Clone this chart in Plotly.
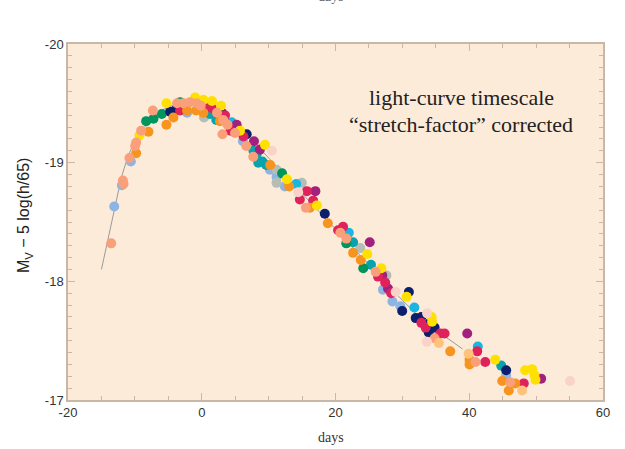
import plotly.graph_objects as go

# template light curve (gray line)
tmpl_day = [-15, -14, -13, -12, -11, -10, -9, -8, -7, -6, -5, -4, -3, -2, -1, 0, 1, 2, 3, 4, 5, 6, 7, 8, 9, 10,
            12, 14, 16, 18, 20, 22, 24, 26, 28, 30, 32, 34, 36, 38, 39]
tmpl_mag = [-18.10, -18.37, -18.64, -18.88, -19.06, -19.18, -19.27, -19.34, -19.40, -19.44, -19.47, -19.49,
            -19.50, -19.50, -19.50, -19.49, -19.47, -19.44, -19.41, -19.37, -19.32, -19.27, -19.22, -19.16,
            -19.10, -19.04, -18.92, -18.80, -18.68, -18.56, -18.44, -18.32, -18.20, -18.08, -17.96, -17.84,
            -17.73, -17.63, -17.55, -17.47, -17.43]

lightblue_day = [-13.09, -11.94, -10.60, -2.19, 6.16, 10.19, 11.19, 12.43, 27.10, 28.51, 29.70, 45.52]
lightblue_mag = [-18.63, -18.81, -19.01, -19.42, -19.18, -18.94, -18.88, -18.80, -17.93, -17.83, -17.79, -17.21]

gray_day = [0.34, 11.19, 11.19, 14.97, 23.70, 27.61]
gray_mag = [-19.38, -18.94, -18.83, -18.83, -18.28, -18.05]

teal_day = [1.24, 2.18, 7.73, 8.21, 9.07, 9.64, 22.63, 25.31, 44.78, 8.45]
teal_mag = [-19.41, -19.36, -19.10, -19.07, -19.01, -18.98, -18.33, -18.14, -17.29, -19.00]

cyan_day = [4.48, 14.12, 21.99, 31.79, 41.28]
cyan_mag = [-19.34, -18.82, -18.41, -17.78, -17.45]

green_day = [-8.31, -7.22, -5.97, -3.24, 12.01, 21.61, 24.15]
green_mag = [-19.35, -19.37, -19.41, -19.51, -18.91, -18.32, -18.11]

navy_day = [-4.73, -3.99, 2.99, 6.72, 18.40, 30.97, 29.97, 31.99, 32.84, 33.88, 34.82, 33.93, 45.52]
navy_mag = [-19.43, -19.44, -19.42, -19.24, -18.57, -17.91, -17.75, -17.69, -17.70, -17.64, -17.61, -17.57, -17.25]

purple_day = [5.22, 7.81, 8.70, 16.99, 25.12, 26.99, 27.85, 39.70, 50.75]
purple_mag = [-19.32, -19.18, -19.11, -18.76, -18.33, -18.05, -17.94, -17.56, -17.18]

magenta_day = [-3.24, 0.64, 1.49, 3.48, 4.30, 6.24, 15.72, 14.67, 16.66, 21.13, 20.39, 26.36, 27.43, 28.33,
               32.84, 33.48, 35.67, 36.31, 41.19, 42.39, 48.15]
magenta_mag = [-19.44, -19.46, -19.46, -19.40, -19.27, -19.22, -18.76, -18.69, -18.68, -18.46, -18.43, -18.04,
               -17.99, -17.90, -17.65, -17.61, -17.56, -17.56, -17.41, -17.32, -17.14]

orange_day = [-9.81, -7.97, -5.28, -4.24, -2.19, -0.85, 0.24, 2.73, 10.24, 13.07, 16.16, 18.85, 22.63, 23.78,
              37.16, 40.04, 40.04, 44.93, 46.87, 45.91]
orange_mag = [-19.08, -19.26, -19.32, -19.38, -19.44, -19.44, -19.42, -19.35, -18.98, -18.80, -18.62, -18.49,
              -18.24, -18.18, -17.41, -17.34, -17.30, -17.16, -17.14, -17.08]

yellow_day = [-9.31, -5.28, -1.00, 0.24, 1.54, 2.88, 5.72, 9.45, 12.73, 17.21, 24.75, 26.87, 30.64, 34.37,
              34.45, 43.88, 48.36, 49.40, 49.75, 49.90]
yellow_mag = [-19.23, -19.50, -19.55, -19.53, -19.52, -19.48, -19.27, -19.15, -18.86, -18.64, -18.23, -18.11,
              -17.87, -17.70, -17.66, -17.34, -17.25, -17.26, -17.21, -17.17]

salmon_day = [-13.54, -11.79, -11.70, -10.81, -9.96, -9.81, -9.06, -7.31, -3.69, -2.75, -1.75, -0.75, -0.15,
              2.28, 3.22, 3.85, 3.10, 4.97, 6.66, 7.70, 15.57, 20.72, 21.61, 26.01, 34.82, 40.94, 46.12]
salmon_mag = [-18.32, -18.85, -18.82, -19.04, -19.14, -19.17, -19.27, -19.44, -19.50, -19.50, -19.51, -19.50,
              -19.48, -19.42, -19.36, -19.32, -19.24, -19.25, -19.14, -19.05, -18.62, -18.41, -18.36, -18.08,
              -17.52, -17.32, -17.15]

palepink_day = [10.49, 14.42, 29.00, 33.70, 33.67, 55.07]
palepink_mag = [-19.10, -18.75, -17.91, -17.73, -17.49, -17.16]

lightorange_day = [35.46, 39.90, 47.91]
lightorange_mag = [-17.48, -17.39, -17.08]

x_ticks = [-20, 0, 20, 40, 60]
y_ticks = [-20, -19, -18, -17]

series = [
    (lightblue_day, lightblue_mag, "#8db4e2"),
    (gray_day, gray_mag, "#b4bdb6"),
    (teal_day, teal_mag, "#08a3ad"),
    (cyan_day, cyan_mag, "#18b7e2"),
    (green_day, green_mag, "#00955c"),
    (navy_day, navy_mag, "#0c1f6c"),
    (purple_day, purple_mag, "#a2217e"),
    (magenta_day, magenta_mag, "#df215c"),
    (orange_day, orange_mag, "#f7941f"),
    (yellow_day, yellow_mag, "#ffe000"),
    (salmon_day, salmon_mag, "#f9a07b"),
    (palepink_day, palepink_mag, "#f9d3c8"),
    (lightorange_day, lightorange_mag, "#ffc27c"),
]

fig = go.Figure()
fig.add_trace(go.Scatter(x=tmpl_day, y=tmpl_mag, mode="lines",
                         line=dict(color="#9a9a9a", width=1), hoverinfo="skip"))
for d, m, c in series:
    fig.add_trace(go.Scatter(x=d, y=m, mode="markers",
                             marker=dict(color=c, size=10, line=dict(width=0))))

axis_col = "#c9b8a7"
fig.update_layout(
    width=625, height=449,
    margin=dict(l=68, r=22, t=44, b=49),
    paper_bgcolor="white",
    plot_bgcolor="#fdebd9",
    showlegend=False,
    font=dict(family="Liberation Sans, Arial", size=13, color="#333333"),
    xaxis=dict(range=[-20, 60], tickvals=x_ticks, ticktext=[str(v) for v in x_ticks],
               ticks="inside", ticklen=7, tickcolor=axis_col, tickwidth=1,
               showline=True, linecolor=axis_col, linewidth=1.5, mirror="ticks",
               showgrid=False, zeroline=False,
               minor=dict(dtick=5, ticks="inside", ticklen=4, tickcolor=axis_col, showgrid=False),
               tickfont=dict(size=13, color="#333333")),
    yaxis=dict(range=[-17, -20], tickvals=y_ticks, ticktext=[str(v) for v in y_ticks],
               ticks="inside", ticklen=7, tickcolor=axis_col, tickwidth=1,
               showline=True, linecolor=axis_col, linewidth=1.5, mirror="ticks",
               showgrid=False, zeroline=False,
               minor=dict(dtick=0.1, ticks="inside", ticklen=4, tickcolor=axis_col, showgrid=False),
               tickfont=dict(size=13, color="#333333")),
)

fig.add_annotation(xref="paper", yref="paper", x=0.4925, y=-0.104, text="days", showarrow=False,
                   xanchor="center", yanchor="middle",
                   font=dict(family="Liberation Serif, Times New Roman", size=14, color="#333333"))
fig.add_annotation(xref="paper", yref="paper", x=0.4925, y=1.107, text="days", showarrow=False,
                   xanchor="center", yanchor="bottom",
                   font=dict(family="Liberation Serif, Times New Roman", size=14, color="#666666"))
fig.add_annotation(xref="paper", yref="paper", x=-0.08, y=0.52,
                   text="M<sub>V</sub> − 5 log(h/65)", showarrow=False, textangle=-90,
                   xanchor="center", yanchor="middle",
                   font=dict(family="Liberation Sans, Arial", size=16, color="#222222"))
fig.add_annotation(xref="paper", yref="paper", x=(461 - 68) / 535, y=(400 - 97) / 356,
                   text="light-curve timescale", showarrow=False,
                   xanchor="center", yanchor="middle",
                   font=dict(family="Liberation Serif, Times New Roman", size=22, color="#222222"))
fig.add_annotation(xref="paper", yref="paper", x=(461 - 68) / 535, y=(400 - 124) / 356,
                   text="“stretch-factor” corrected", showarrow=False,
                   xanchor="center", yanchor="middle",
                   font=dict(family="Liberation Serif, Times New Roman", size=22, color="#222222"))

fig.write_html("out.html")
